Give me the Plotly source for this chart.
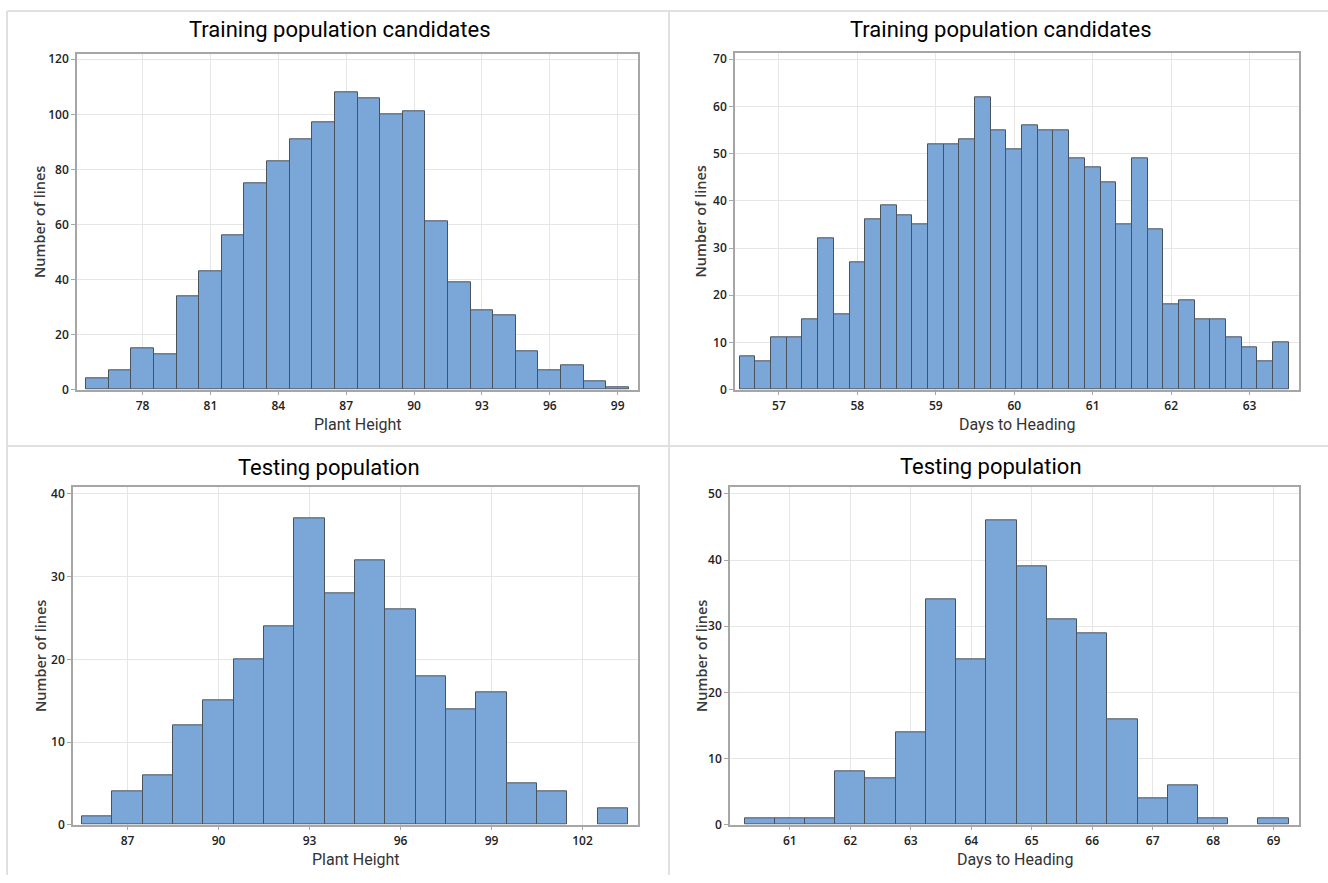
import plotly.graph_objects as go

W, H = 1328, 883

# ---------------- data ----------------
ph_train_bins = list(range(76, 100))
ph_train_counts = [4, 7, 15, 13, 34, 43, 56, 75, 83, 91, 97, 108, 106, 100, 101,
                   61, 39, 29, 27, 14, 7, 9, 3, 1]

dth_train_bins = [round(56.6 + 0.2 * i, 1) for i in range(35)]
dth_train_counts = [7, 6, 11, 11, 15, 32, 16, 27, 36, 39, 37, 35, 52, 52, 53, 62,
                    55, 51, 56, 55, 55, 49, 47, 44, 35, 49, 34, 18, 19, 15, 15, 11,
                    9, 6, 10]

ph_test_bins = list(range(86, 104))
ph_test_counts = [1, 4, 6, 12, 15, 20, 24, 37, 28, 32, 26, 18, 14, 16, 5, 4, 0, 2]

dth_test_bins = [60.5, 61, 61.5, 62, 62.5, 63, 63.5, 64, 64.5, 65, 65.5, 66, 66.5,
                 67, 67.5, 68, 68.5, 69]
dth_test_counts = [1, 1, 1, 8, 7, 14, 34, 25, 46, 39, 31, 29, 16, 4, 6, 1, 0, 1]

titles = ["Training population candidates", "Training population candidates",
          "Testing population", "Testing population"]
x_titles = ["Plant Height", "Days to Heading", "Plant Height", "Days to Heading"]
y_title = "Number of lines"

x_ticks = [[78, 81, 84, 87, 90, 93, 96, 99],
           [57, 58, 59, 60, 61, 62, 63],
           [87, 90, 93, 96, 99, 102],
           [61, 62, 63, 64, 65, 66, 67, 68, 69]]
y_ticks = [[0, 20, 40, 60, 80, 100, 120],
           [0, 10, 20, 30, 40, 50, 60, 70],
           [0, 10, 20, 30, 40],
           [0, 10, 20, 30, 40, 50]]

# ---------------- styles ----------------
BAR = "#7BA6D8"
EDGE = "#4A525C"
GRID = "#E6E6E6"
FRAME = "#A6A6A6"
FONT = "Open Sans"
TITLE_FONT = "Roboto"

# pixel boxes: (x0, x1, y0, y1) in screen pixels
boxes = [(77, 638, 51, 391), (735, 1299, 50, 391),
         (73, 638, 490, 832), (730, 1299, 490, 832)]
x_ranges = [[75.1, 99.9], [56.44, 63.63], [85.2, 103.83], [60.01, 69.42]]
y_ranges = [[0, 121.8], [0, 71.25], [0, 40.8], [0, 51.0]]
widths = [1, 0.2, 1, 0.5]
title_pos = [(340, 26), (1001, 26), (329, 470), (991, 469)]
ytitle_x = [40, 701, 40, 701]

series = [(ph_train_bins, ph_train_counts), (dth_train_bins, dth_train_counts),
          (ph_test_bins, ph_test_counts), (dth_test_bins, dth_test_counts)]

fig = go.Figure()
layout = dict(width=W, height=H, margin=dict(l=0, r=0, t=0, b=0),
              paper_bgcolor="white", plot_bgcolor="white", showlegend=False,
              bargap=0)
annotations = []
shapes = []

for i, ((xs, ys), (x0, x1, y0, y1)) in enumerate(zip(series, boxes)):
    n = "" if i == 0 else str(i + 1)
    # empty bins are not drawn
    ys_plot = [c if c > 0 else None for c in ys]
    fig.add_trace(go.Bar(x=xs, y=ys_plot, width=widths[i],
                         marker=dict(color=BAR, line=dict(color=EDGE, width=1)),
                         xaxis="x" + n, yaxis="y" + n, hoverinfo="x+y"))
    xd = [x0 / W, x1 / W]
    yd = [1 - y1 / H, 1 - y0 / H]
    axis_common = dict(showgrid=True, gridcolor=GRID, gridwidth=1, zeroline=False,
                       showline=True, linecolor=FRAME, linewidth=1.5, mirror=True,
                       ticks="outside", ticklen=4, tickcolor=FRAME,
                       tickfont=dict(family=FONT, size=12, color="#222222",
                                     weight=600))
    layout["xaxis" + n] = dict(domain=xd, anchor="y" + n, range=x_ranges[i],
                               tickvals=x_ticks[i], **axis_common)
    layout["yaxis" + n] = dict(domain=yd, anchor="x" + n, range=y_ranges[i],
                               tickvals=y_ticks[i], **axis_common)
    tx, ty = title_pos[i]
    annotations.append(dict(text=titles[i], x=tx / W, y=1 - ty / H, xref="paper",
                            yref="paper", showarrow=False, xanchor="center",
                            yanchor="middle",
                            font=dict(family=TITLE_FONT, size=22, color="#000000")))
    annotations.append(dict(text=x_titles[i], x=(x0 + x1) / 2 / W,
                            y=1 - (y1 + 35) / H, xref="paper", yref="paper",
                            showarrow=False, xanchor="center", yanchor="middle",
                            font=dict(family=TITLE_FONT, size=16, color="#333333")))
    annotations.append(dict(text=y_title, x=ytitle_x[i] / W, y=1 - (y0 + y1) / 2 / H,
                            xref="paper", yref="paper", showarrow=False,
                            textangle=-90, xanchor="center", yanchor="middle",
                            font=dict(family=FONT, size=14.5, color="#3A3A3A",
                                      weight=600)))

# panel dividers
line = dict(color="#E0E0E0", width=2)
shapes.append(dict(type="line", xref="paper", yref="paper", x0=7 / W, x1=1,
                   y0=1 - 7 / H, y1=1 - 7 / H, line=line))
shapes.append(dict(type="line", xref="paper", yref="paper", x0=7 / W, x1=7 / W,
                   y0=0, y1=1 - 7 / H, line=line))
shapes.append(dict(type="line", xref="paper", yref="paper", x0=669 / W, x1=669 / W,
                   y0=0, y1=1 - 7 / H, line=line))
shapes.append(dict(type="line", xref="paper", yref="paper", x0=7 / W, x1=1,
                   y0=1 - 448 / H, y1=1 - 448 / H, line=line))

layout["annotations"] = annotations
layout["shapes"] = shapes
fig.update_layout(**layout)
fig.write_html("out.html")
